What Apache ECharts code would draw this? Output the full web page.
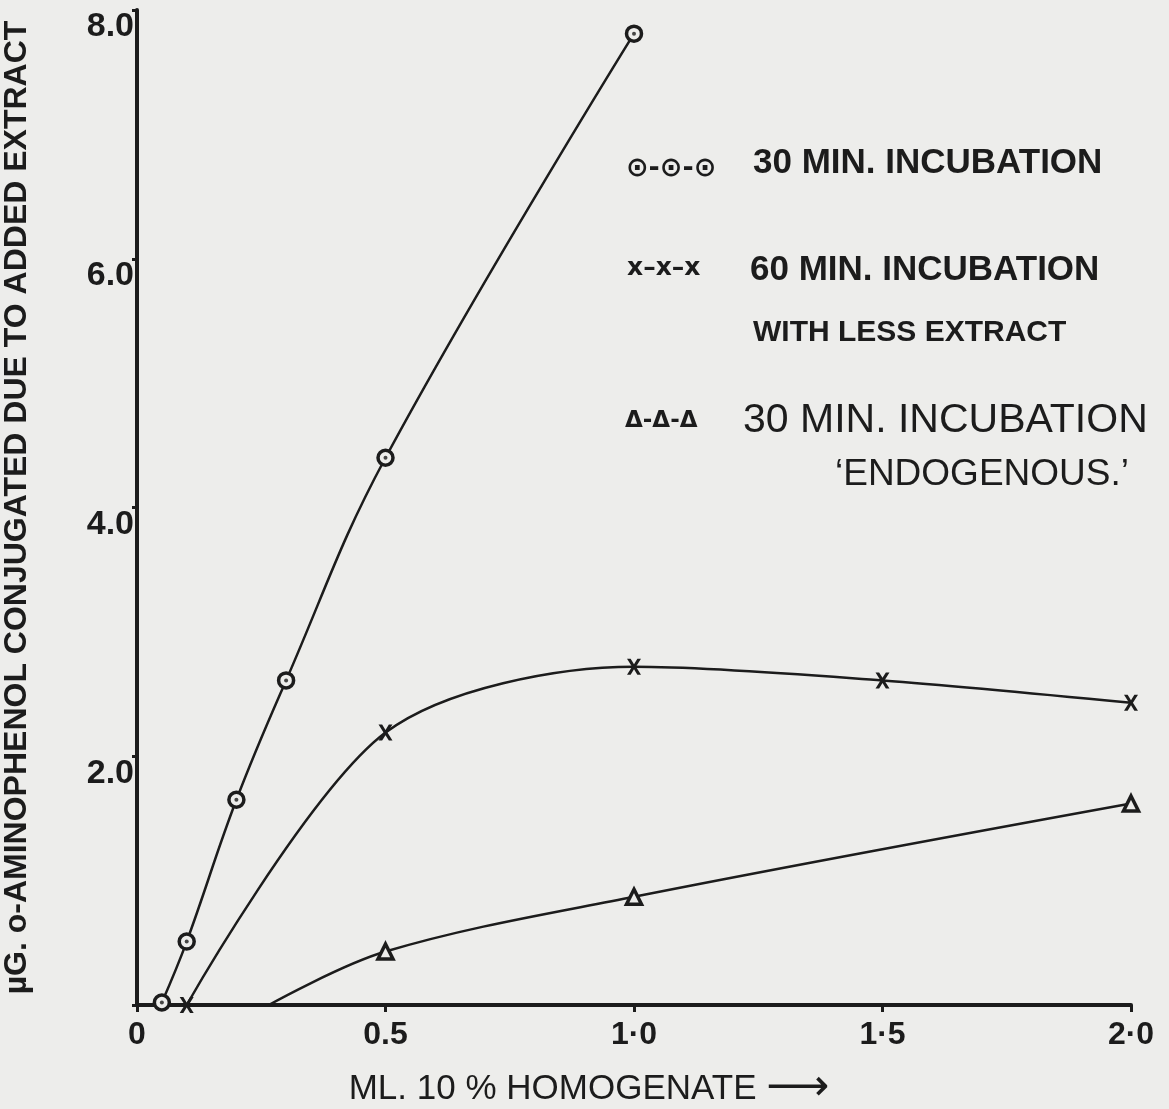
<!DOCTYPE html>
<html>
<head>
<meta charset="utf-8">
<script src="https://cdn.jsdelivr.net/npm/echarts@6/dist/echarts.min.js"></script>
<style>
  html, body { margin: 0; padding: 0; background: #ededeb; }
  #chart { width: 1169px; height: 1109px; }
</style>
</head>
<body>
<div id="chart"></div>
<script>
// 30 min incubation (circles)
const min30X = [0.05, 0.1, 0.2, 0.3, 0.5, 1.0];
const min30Y = [0.02, 0.51, 1.65, 2.61, 4.40, 7.81];

// 60 min incubation with less extract (crosses)
const min60X = [0.1, 0.5, 1.0, 1.5, 2.0];
const min60Y = [0.0, 2.19, 2.72, 2.61, 2.43];

// 30 min incubation 'endogenous' (triangles), curve leaves the axis at ~0.27
const endoX = [0.265, 0.5, 1.0, 2.0];
const endoY = [0.0, 0.43, 0.87, 1.62];

// tick labels
const xTickValues = [0, 0.5, 1, 1.5, 2];
const xTickLabels = ['0', '0.5', '1·0', '1·5', '2·0'];
const yTickValues = [0, 2, 4, 6, 8];
const yTickLabels = ['', '2.0', '4.0', '6.0', '8.0'];

const ink = '#1c1c1c';
const paper = '#ededeb';
const pairs = (xs, ys) => xs.map((x, i) => [x, ys[i]]);
const crossPath = 'path://M0,0 L2.6,0 L5,3.4 L7.4,0 L10,0 L6.4,5 L10,10 L7.4,10 L5,6.6 L2.6,10 L0,10 L3.6,5 Z';

const chart = echarts.init(document.getElementById('chart'), null, { renderer: 'canvas' });

const option = {
  backgroundColor: paper,
  animation: false,
  grid: { left: 137, right: 38, top: 10, bottom: 104, containLabel: false, outerBoundsMode: 'none' },
  xAxis: {
    type: 'value',
    min: 0,
    max: 2,
    interval: 0.5,
    name: 'ML. 10 % HOMOGENATE {arrow|⟶}',
    nameLocation: 'middle',
    nameGap: 62,
    nameTextStyle: {
      color: ink,
      fontFamily: 'Liberation Sans',
      fontSize: 35,
      padding: [0, 90, 0, 0],
      rich: { arrow: { fontFamily: 'DejaVu Sans', fontSize: 44, color: ink } }
    },
    axisLine: { lineStyle: { color: ink, width: 4 } },
    axisTick: { length: 7, lineStyle: { color: ink, width: 3 } },
    axisLabel: {
      color: ink,
      fontFamily: 'Liberation Sans',
      fontWeight: 'bold',
      fontSize: 32,
      margin: 14,
      formatter: v => xTickLabels[xTickValues.indexOf(v)]
    },
    splitLine: { show: false }
  },
  yAxis: {
    type: 'value',
    min: 0,
    max: 8,
    interval: 2,
    name: 'µG. o-AMINOPHENOL CONJUGATED DUE TO ADDED EXTRACT',
    nameLocation: 'middle',
    nameGap: 104,
    nameRotate: 90,
    nameTextStyle: { color: ink, fontFamily: 'Liberation Sans', fontWeight: 'bold', fontSize: 32 },
    axisLine: { lineStyle: { color: ink, width: 4 } },
    axisTick: { length: 5, lineStyle: { color: ink, width: 3 } },
    axisLabel: {
      color: ink,
      fontFamily: 'Liberation Sans',
      fontWeight: 'bold',
      fontSize: 34,
      margin: 3,
      verticalAlign: 'top',
      formatter: v => yTickLabels[yTickValues.indexOf(v)]
    },
    splitLine: { show: false }
  },
  series: [
    {
      type: 'line',
      data: pairs(min30X, min30Y),
      smooth: 0.4,
      symbol: 'circle',
      symbolSize: 15,
      lineStyle: { color: ink, width: 2.5 },
      itemStyle: { color: paper, borderColor: ink, borderWidth: 3.5 },
      z: 3
    },
    {
      // centre dots of the circle markers
      type: 'scatter',
      data: pairs(min30X, min30Y),
      symbol: 'circle',
      symbolSize: 4,
      itemStyle: { color: ink },
      z: 5
    },
    {
      type: 'line',
      data: pairs(min60X, min60Y),
      smooth: 0.3,
      symbol: crossPath,
      symbolSize: [14, 16],
      lineStyle: { color: ink, width: 2.5 },
      itemStyle: { color: ink },
      z: 3
    },
    {
      type: 'line',
      data: pairs(endoX, endoY),
      smooth: 0.35,
      symbol: (val, params) => params.dataIndex === 0 ? 'none' : 'triangle',
      symbolSize: 15,
      lineStyle: { color: ink, width: 2.5 },
      itemStyle: { color: paper, borderColor: ink, borderWidth: 3.5 },
      z: 3
    }
  ],
  graphic: [
    { type: 'text', left: 626, top: 155, style: { text: '⊙-⊙-⊙', fill: ink, fontFamily: 'DejaVu Sans', fontWeight: 'bold', fontSize: 27 } },
    { type: 'text', left: 753, top: 146, style: { text: '30 MIN. INCUBATION', fill: ink, fontFamily: 'Liberation Sans', fontWeight: 'bold', fontSize: 35 } },
    { type: 'text', left: 627, top: 256, style: { text: 'x–x–x', fill: ink, fontFamily: 'DejaVu Sans', fontWeight: 'bold', fontSize: 25 } },
    { type: 'text', left: 750, top: 253, style: { text: '60 MIN. INCUBATION', fill: ink, fontFamily: 'Liberation Sans', fontWeight: 'bold', fontSize: 35 } },
    { type: 'text', left: 753, top: 318, style: { text: 'WITH LESS EXTRACT', fill: ink, fontFamily: 'Liberation Sans', fontWeight: 'bold', fontSize: 30 } },
    { type: 'text', left: 625, top: 410, style: { text: 'Δ-Δ-Δ', fill: ink, fontFamily: 'DejaVu Sans', fontWeight: 'bold', fontSize: 23 } },
    { type: 'text', left: 743, top: 400, style: { text: '30 MIN. INCUBATION', fill: ink, fontFamily: 'Liberation Sans', fontSize: 41 } },
    { type: 'text', left: 835, top: 456, style: { text: '‘ENDOGENOUS.’', fill: ink, fontFamily: 'Liberation Sans', fontSize: 37 } }
  ]
};

chart.setOption(option);
</script>
</body>
</html>
